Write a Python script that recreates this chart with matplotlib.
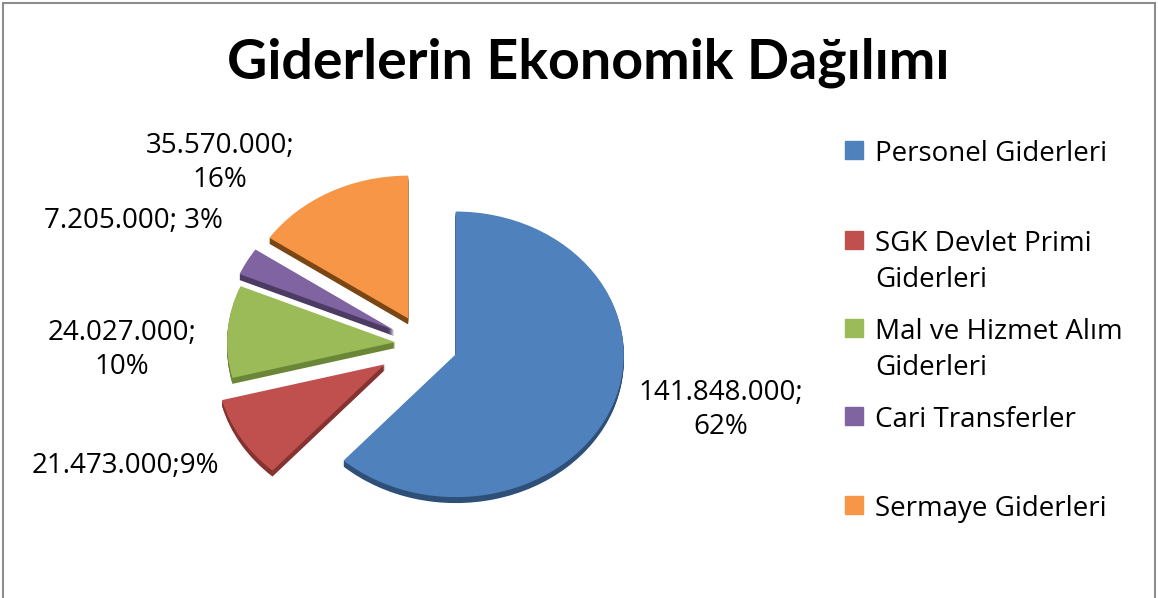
import matplotlib.pyplot as plt
from matplotlib.patches import Rectangle

categories = ["Personel Giderleri", "SGK Devlet Primi\nGiderleri",
              "Mal ve Hizmet Alım\nGiderleri", "Cari Transferler",
              "Sermaye Giderleri"]
values = [141848000, 21473000, 24027000, 7205000, 35570000]
label_seps = [";\n", ";", ";\n", "; ", ";\n"]
title = "Giderlerin Ekonomik Dağılımı"

colors = ["#4F81BD", "#C0504D", "#9BBB59", "#8064A2", "#F79646"]
side_colors = ["#2D4F78", "#843330", "#6A8636", "#4C3B63", "#7A4614"]

W, H = 1158, 598


def percents(vals):
    # whole percents that add up to 100 (largest remainder)
    total = sum(vals)
    raw = [v * 100 / total for v in vals]
    out = [int(r) for r in raw]
    order = sorted(range(len(vals)), key=lambda i: raw[i] - out[i], reverse=True)
    for i in order[:100 - sum(out)]:
        out[i] += 1
    return out


def fmt(v):
    return f"{v:,}".replace(",", ".")


fig = plt.figure(figsize=(W / 100, H / 100), dpi=100)
ax = fig.add_axes([0, 0, 1, 1])

# pie drawn in pixel units, y squashed to look tilted
k = 0.85
R = 168
cx, cy = 424, (H - 344) / k
explode = [34, 46, 29, 34, 34]
depth = 7

for d in range(depth, 0, -1):
    ax.pie(values, colors=side_colors, radius=R, center=(cx, cy - d),
           startangle=90, counterclock=False, explode=explode,
           wedgeprops=dict(linewidth=0))
ax.pie(values, colors=colors, radius=R, center=(cx, cy),
       startangle=90, counterclock=False, explode=explode,
       wedgeprops=dict(linewidth=0))
ax.set_xlim(0, W)
ax.set_ylim(0, H / k)
ax.set_aspect('auto')
ax.axis('off')

# data labels
pcts = percents(values)
label_pos = [(721, 410), (125, 466), (122, 350), (133, 221), (220, 163)]
for v, p, sep, (x, y) in zip(values, pcts, label_seps, label_pos):
    fig.text(x / W, 1 - y / H, f"{fmt(v)}{sep}{p}%", ha='center', va='center',
             multialignment='center', fontsize=20, family='Open Sans',
             linespacing=1.24)

# legend
leg_y = [150, 240, 328, 416, 505]
for c, name, y in zip(colors, categories, leg_y):
    fig.patches.append(Rectangle((845 / W, 1 - (y + 9) / H), 18 / W, 18 / H,
                                 transform=fig.transFigure, color=c))
    for i, line in enumerate(name.split("\n")):
        fig.text(875 / W, 1 - (y + 11 + i * 36) / H, line, ha='left',
                 va='baseline', fontsize=20, family='Open Sans')

fig.text(588 / W, 1 - 78 / H, title, ha='center', va='baseline',
         fontsize=40, fontweight='bold', family='Lato')

# chart border
fig.patches.append(Rectangle((3 / W, -0.05), 1152 / W, 1.05 - 3 / H,
                             transform=fig.transFigure, fill=False,
                             edgecolor='#8C8C8C', linewidth=1.5))

fig.savefig("out.png", dpi=100)
